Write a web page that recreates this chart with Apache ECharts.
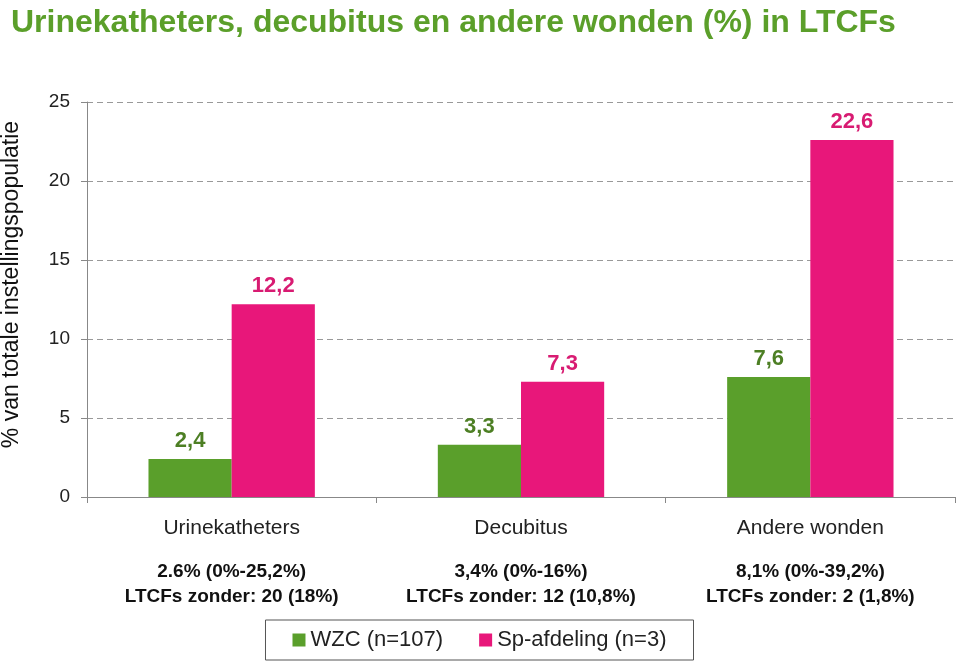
<!DOCTYPE html>
<html>
<head>
<meta charset="utf-8">
<script src="https://cdn.jsdelivr.net/npm/echarts@6/dist/echarts.min.js"></script>
<style>
html,body{margin:0;padding:0;background:#fff;}
#c{width:959px;height:661px;}
</style>
</head>
<body>
<div id="c"></div>
<script>
const categories = ['Urinekatheters', 'Decubitus', 'Andere wonden'];
const subLine1 = ['2.6% (0%-25,2%)', '3,4% (0%-16%)', '8,1% (0%-39,2%)'];
const subLine2 = ['LTCFs zonder: 20 (18%)', 'LTCFs zonder: 12 (10,8%)', 'LTCFs zonder: 2 (1,8%)'];
const wzcName = 'WZC (n=107)';
const spName = 'Sp-afdeling (n=3)';
const wzcValues = [2.4, 3.3, 7.6];
const spValues = [12.2, 7.3, 22.6];
const yTicks = [0, 5, 10, 15, 20, 25];

const FONT = '"Liberation Sans", sans-serif';
const chart = echarts.init(document.getElementById('c'));
const fmt = v => String(v).replace('.', ',');

chart.setOption({
  animation: false,
  title: {
    text: 'Urinekatheters, decubitus en andere wonden (%) in LTCFs',
    left: 6, top: 2,
    textStyle: { color: '#5b9f2a', fontSize: 32, fontWeight: 'bold', fontFamily: FONT }
  },
  legend: {
    bottom: 1, left: 'center',
    data: [wzcName, spName],
    icon: 'rect',
    itemWidth: 13, itemHeight: 13, itemGap: 36,
    borderColor: '#555', borderWidth: 1, padding: [9, 27, 9, 27],
    textStyle: { fontSize: 22, color: '#222', fontFamily: FONT }
  },
  grid: { left: 87, right: 4, top: 102, bottom: 164, containLabel: false, outerBoundsMode: 'none' },
  xAxis: {
    type: 'category',
    data: categories,
    axisLine: { lineStyle: { color: '#888' } },
    axisTick: { show: true, length: 6, lineStyle: { color: '#888' } },
    axisLabel: {
      margin: 0,
      interval: 0,
      formatter: (v, i) => '{c|' + v + '}\n{s|' + subLine1[i] + '}\n{s|' + subLine2[i] + '}',
      rich: {
        c: { fontSize: 21, color: '#222', fontFamily: FONT, lineHeight: 62 },
        s: { fontSize: 19, color: '#111', fontWeight: 'bold', fontFamily: FONT, lineHeight: 25 }
      }
    }
  },
  yAxis: {
    type: 'value', min: 0, max: 25, interval: 5,
    name: '% van totale instellingspopulatie',
    nameLocation: 'middle', nameGap: 64,
    nameTextStyle: { fontSize: 23, color: '#111', fontFamily: FONT, padding: [0, 0, 0, 30] },
    axisLine: { show: true, lineStyle: { color: '#888' } },
    axisTick: { show: true, length: 6, lineStyle: { color: '#888' } },
    axisLabel: {
      fontSize: 19, color: '#222', fontFamily: FONT, margin: 17,
      formatter: v => yTicks.includes(v) ? String(v) : ''
    },
    splitLine: { show: true, lineStyle: { color: '#999', type: [6, 4], width: 1 } }
  },
  series: [
    {
      name: wzcName, type: 'bar', data: wzcValues,
      barGap: '0%', barCategoryGap: '42.5%',
      itemStyle: { color: '#5a9f2b' },
      label: {
        show: true, position: 'top', distance: 7,
        formatter: p => fmt(p.value),
        fontSize: 22, fontWeight: 'bold', color: '#4d7f24', fontFamily: FONT
      }
    },
    {
      name: spName, type: 'bar', data: spValues,
      itemStyle: { color: '#e8177a' },
      label: {
        show: true, position: 'top', distance: 7,
        formatter: p => fmt(p.value),
        fontSize: 22, fontWeight: 'bold', color: '#d81b72', fontFamily: FONT
      }
    }
  ]
});
</script>
</body>
</html>
